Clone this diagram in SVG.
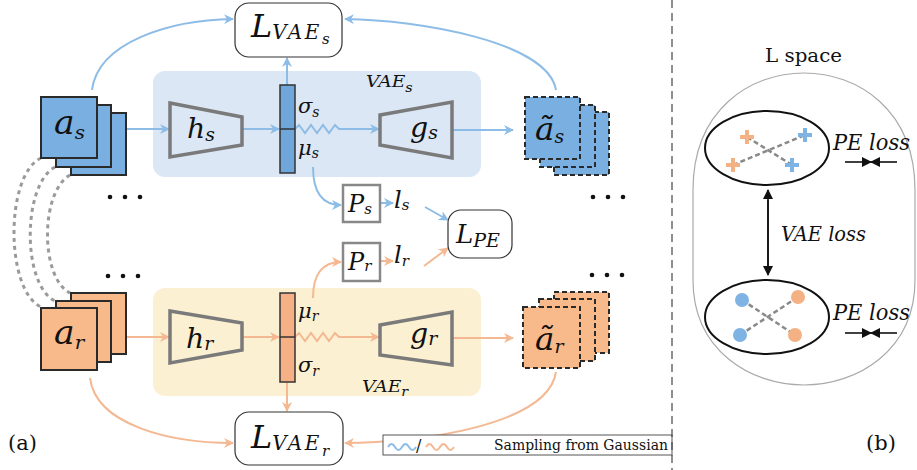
<svg xmlns="http://www.w3.org/2000/svg" width="917" height="470" viewBox="0 0 917 470">
<style>
text{font-family:"DejaVu Serif","Liberation Serif",serif}
.m{font-style:italic;fill:#111}
.t{fill:#111}
.bl{stroke:#8dbde6;stroke-width:2;fill:none}
.or{stroke:#f4b892;stroke-width:2;fill:none}
.trap{fill:none;stroke:#7a7a7a;stroke-width:3.5;stroke-linejoin:miter}
.sqb{fill:#7aafe2;stroke:#2a2a2a;stroke-width:2}
.sqo{fill:#f8b98b;stroke:#2a2a2a;stroke-width:2}
.dsb{fill:#7aafe2;stroke:#2a2a2a;stroke-width:2;stroke-dasharray:5,3}
.dso{fill:#f8b98b;stroke:#2a2a2a;stroke-width:2;stroke-dasharray:5,3}
.pbox{fill:#fff;stroke:#888;stroke-width:2.5}
.lbox{fill:#fff;stroke:#333;stroke-width:1.2}
.gd{stroke:#9a9a9a;stroke-width:3;fill:none;stroke-dasharray:4,4}
.dl{stroke:#8a8a8a;stroke-width:2.5;fill:none;stroke-dasharray:5,3}
.blk{stroke:#111;stroke-width:1.6;fill:none}
</style>
<defs>
<marker id="ab" viewBox="0 0 10 10" refX="9" refY="5" markerWidth="10" markerHeight="10" markerUnits="userSpaceOnUse" orient="auto"><path d="M0,0 L10,5 L0,10 L3,5 Z" fill="#8dbde6"/></marker>
<marker id="ao" viewBox="0 0 10 10" refX="9" refY="5" markerWidth="10" markerHeight="10" markerUnits="userSpaceOnUse" orient="auto"><path d="M0,0 L10,5 L0,10 L3,5 Z" fill="#f4b892"/></marker>
<marker id="ak" viewBox="0 0 10 10" refX="9" refY="5" markerWidth="10" markerHeight="10" markerUnits="userSpaceOnUse" orient="auto"><path d="M0,0 L10,5 L0,10 Z" fill="#111"/></marker>
</defs>

<!-- panels -->
<g id="vae_s_panel">
<rect x="153" y="71" width="328" height="106" rx="12" fill="#dbe7f4"/>
<text class="m" transform="translate(366 87) scale(1.1 1)" font-size="17">VAE<tspan font-size="13" dy="5">s</tspan></text>
</g>
<g id="vae_r_panel">
<rect x="153" y="288" width="328" height="108" rx="12" fill="#fbf1d2"/>
<text class="m" transform="translate(362 392) scale(1.1 1)" font-size="17">VAE<tspan font-size="13" dy="4">r</tspan></text>
</g>

<!-- connectors -->
<g id="connectors">
<path class="gd" d="M41,158 C5,175 5,290 41,307"/>
<path class="gd" d="M55,167 C22,185 22,285 55,301"/>
<path class="gd" d="M70,175 C40,192 40,278 70,293"/>

<line class="bl" x1="126" y1="129" x2="169" y2="129" marker-end="url(#ab)"/>
<line class="bl" x1="243" y1="129" x2="279" y2="129" marker-end="url(#ab)"/>
<path class="bl" d="M295,129 l4,-4 l6,8 l6,-8 l6,8 l6,-8 l6,8 l6,-8 l4,4 L379,129" marker-end="url(#ab)"/>
<line class="bl" x1="452" y1="130" x2="513" y2="130" marker-end="url(#ab)"/>
<line class="bl" x1="287" y1="85" x2="287" y2="58" marker-end="url(#ab)"/>
<path class="bl" d="M92,90 C98,42 170,20 233,19" marker-end="url(#ab)"/>
<path class="bl" d="M556,90 C548,42 420,20 345,19" marker-end="url(#ab)"/>
<path class="bl" d="M313,167 C313,195 324,205 341,205" marker-end="url(#ab)"/>
<line class="bl" x1="380" y1="203" x2="393" y2="203" marker-end="url(#ab)"/>
<line class="bl" x1="425" y1="207" x2="448" y2="220" marker-end="url(#ab)"/>

<line class="or" x1="126" y1="337" x2="169" y2="337" marker-end="url(#ao)"/>
<line class="or" x1="243" y1="337" x2="279" y2="337" marker-end="url(#ao)"/>
<path class="or" d="M295,337 l4,-4 l6,8 l6,-8 l6,8 l6,-8 l6,8 l6,-8 l4,4 L379,337" marker-end="url(#ao)"/>
<line class="or" x1="452" y1="338" x2="513" y2="338" marker-end="url(#ao)"/>
<line class="or" x1="287" y1="382" x2="287" y2="411" marker-end="url(#ao)"/>
<path class="or" d="M90,378 C96,425 170,443 233,443" marker-end="url(#ao)"/>
<path class="or" d="M556,372 C548,425 420,443 345,443" marker-end="url(#ao)"/>
<path class="or" d="M313,298 C313,272 324,262 341,262" marker-end="url(#ao)"/>
<line class="or" x1="380" y1="261" x2="393" y2="261" marker-end="url(#ao)"/>
<line class="or" x1="424" y1="266" x2="448" y2="248" marker-end="url(#ao)"/>

<line class="blk" x1="768" y1="270" x2="768" y2="190" marker-end="url(#ak)"/>
<line class="blk" x1="768" y1="200" x2="768" y2="275" marker-end="url(#ak)"/>
<line class="blk" x1="845" y1="162" x2="871" y2="162" marker-end="url(#ak)"/>
<line class="blk" x1="897" y1="162" x2="871" y2="162" marker-end="url(#ak)"/>
<line class="blk" x1="845" y1="333" x2="871" y2="333" marker-end="url(#ak)"/>
<line class="blk" x1="897" y1="333" x2="871" y2="333" marker-end="url(#ak)"/>
</g>

<!-- input stacks -->
<g id="a_s">
<rect class="sqb" x="71" y="113" width="55" height="62"/>
<rect class="sqb" x="56" y="105" width="55" height="62"/>
<rect class="sqb" x="41" y="97" width="56" height="61"/>
<text class="m" transform="translate(54 134) scale(1.05 1)" font-size="33">a<tspan font-size="19" dy="5">s</tspan></text>
</g>
<g id="a_r">
<rect class="sqo" x="71" y="293" width="55" height="61"/>
<rect class="sqo" x="56" y="301" width="55" height="61"/>
<rect class="sqo" x="41" y="308" width="56" height="62"/>
<text class="m" transform="translate(54 344) scale(1.05 1)" font-size="33">a<tspan font-size="19" dy="5">r</tspan></text>
</g>
<g id="dots">
<circle cx="110" cy="197" r="2.3" fill="#111"/><circle cx="125" cy="197" r="2.3" fill="#111"/><circle cx="140" cy="197" r="2.3" fill="#111"/>
<circle cx="593" cy="197" r="2.3" fill="#111"/><circle cx="608" cy="197" r="2.3" fill="#111"/><circle cx="623" cy="197" r="2.3" fill="#111"/>
<circle cx="108" cy="276" r="2.3" fill="#111"/><circle cx="123" cy="276" r="2.3" fill="#111"/><circle cx="138" cy="276" r="2.3" fill="#111"/>
<circle cx="592" cy="275" r="2.3" fill="#111"/><circle cx="607" cy="275" r="2.3" fill="#111"/><circle cx="622" cy="275" r="2.3" fill="#111"/>
</g>

<!-- encoders/decoders -->
<g id="h_s">
<path class="trap" d="M170,103 L242,117 L242,145 L170,157 Z"/>
<text class="m" transform="translate(187 138) scale(1.05 1)" font-size="27">h<tspan font-size="18" dy="3">s</tspan></text>
</g>
<g id="h_r">
<path class="trap" d="M170,311 L242,323 L242,350 L170,363 Z"/>
<text class="m" transform="translate(186 348) scale(1.05 1)" font-size="27">h<tspan font-size="18" dy="2">r</tspan></text>
</g>
<g id="z_s">
<rect x="280" y="85" width="15" height="88" fill="#6fa7db" stroke="#333" stroke-width="1.5"/>
<line x1="280" y1="129" x2="295" y2="129" stroke="#333" stroke-width="1.5"/>
<text class="m" x="298" y="113" font-size="21">σ<tspan font-size="14" dy="4">s</tspan></text>
<text class="m" x="298" y="155" font-size="21">μ<tspan font-size="14" dy="3">s</tspan></text>
</g>
<g id="z_r">
<rect x="280" y="293" width="15" height="89" fill="#f5b086" stroke="#333" stroke-width="1.5"/>
<line x1="280" y1="337" x2="295" y2="337" stroke="#333" stroke-width="1.5"/>
<text class="m" x="298" y="318" font-size="21">μ<tspan font-size="14" dy="3">r</tspan></text>
<text class="m" x="298" y="372" font-size="21">σ<tspan font-size="14" dy="4">r</tspan></text>
</g>
<g id="g_s">
<path class="trap" d="M380,115 L452,102 L452,158 L380,145 Z"/>
<text class="m" transform="translate(410 137) scale(1.05 1)" font-size="27">g<tspan font-size="18" dy="2">s</tspan></text>
</g>
<g id="g_r">
<path class="trap" d="M380,325 L452,312 L452,365 L380,355 Z"/>
<text class="m" transform="translate(410 343) scale(1.05 1)" font-size="27">g<tspan font-size="18" dy="2">r</tspan></text>
</g>

<!-- reconstructions -->
<g id="at_s">
<rect class="dsb" x="554" y="112" width="55" height="63"/>
<rect class="dsb" x="540" y="105" width="55" height="62"/>
<rect class="dsb" x="525" y="97" width="55" height="62"/>
<text class="m" transform="translate(535 140) scale(1.05 1)" font-size="31">ã<tspan font-size="18" dy="3">s</tspan></text>
</g>
<g id="at_r">
<rect class="dso" x="554" y="292" width="55" height="61"/>
<rect class="dso" x="539" y="299" width="56" height="62"/>
<rect class="dso" x="523" y="307" width="57" height="61"/>
<text class="m" transform="translate(535 350) scale(1.05 1)" font-size="31">ã<tspan font-size="18" dy="3">r</tspan></text>
</g>

<!-- P boxes and l -->
<g id="P_s">
<rect class="pbox" x="343" y="185" width="37" height="37"/>
<text class="m" x="348" y="212" font-size="24">P<tspan font-size="15" dy="2">s</tspan></text>
</g>
<g id="P_r">
<rect class="pbox" x="343" y="243" width="37" height="38"/>
<text class="m" x="348" y="270" font-size="24">P<tspan font-size="15" dy="1">r</tspan></text>
</g>
<g id="l_s"><text class="m" x="394" y="208" font-size="24">l<tspan font-size="15" dy="2">s</tspan></text></g>
<g id="l_r"><text class="m" x="394" y="263" font-size="24">l<tspan font-size="15" dy="3">r</tspan></text></g>

<!-- loss boxes -->
<g id="L_VAE_s">
<rect class="lbox" x="235" y="3" width="107" height="54" rx="14"/>
<text class="m" x="251" y="37" font-size="32">L<tspan font-size="20" dy="2" letter-spacing="2.5">VAE</tspan><tspan font-size="15" dy="5">s</tspan></text>
</g>
<g id="L_VAE_r">
<rect class="lbox" x="235" y="412" width="108" height="53" rx="14"/>
<text class="m" x="251" y="448" font-size="32">L<tspan font-size="20" dy="2" letter-spacing="2.5">VAE</tspan><tspan font-size="15" dy="6">r</tspan></text>
</g>
<g id="L_PE">
<rect class="lbox" x="448" y="210" width="64" height="48" rx="13"/>
<text class="m" x="456" y="243" font-size="26">L<tspan font-size="19" dy="4">PE</tspan></text>
</g>

<!-- legend -->
<g id="legend">
<rect x="383" y="435" width="289" height="20" fill="#fff" stroke="#555" stroke-width="1"/>
<path d="M388,447 q3.5,-6 7,0 t7,0 t7,0 t7,0" stroke="#8dbde6" stroke-width="2" fill="none"/>
<text class="t" x="416" y="451" font-size="16">/</text>
<path d="M426,447 q3.5,-6 7,0 t7,0 t7,0 t7,0" stroke="#f4b892" stroke-width="2" fill="none"/>
<text class="t" x="494" y="450" font-size="15.5" textLength="174" lengthAdjust="spacingAndGlyphs">Sampling from Gaussian</text>
</g>

<line x1="672" y1="0" x2="672" y2="470" stroke="#444" stroke-width="1.2" stroke-dasharray="8,5"/>
<text class="t" x="8" y="450" font-size="21">(a)</text>
<text class="t" x="866" y="450" font-size="21">(b)</text>

<!-- right panel -->
<g id="l_space">
<text class="t" x="765" y="62" font-size="19" textLength="77" lengthAdjust="spacingAndGlyphs">L space</text>
<path d="M693,190 C693,110 750,73 804,73 C858,73 915,110 915,190 L915,280 C915,350 858,385 804,385 C750,385 693,350 693,280 Z" fill="none" stroke="#aaa" stroke-width="1.2"/>
</g>
<g id="upper_cluster">
<ellipse cx="767" cy="148" rx="62" ry="37" fill="#fff" stroke="#111" stroke-width="2"/>
<line class="dl" x1="747" y1="137" x2="792" y2="165"/>
<line class="dl" x1="733" y1="165" x2="805" y2="135"/>
<path d="M740,137 h14 M747,130 v14 M726,165 h14 M733,158 v14" stroke="#f4b183" stroke-width="4"/>
<path d="M798,135 h14 M805,128 v14 M785,165 h14 M792,158 v14" stroke="#7fb3e3" stroke-width="4"/>
<text class="m" x="833" y="150" font-size="22" textLength="77" lengthAdjust="spacingAndGlyphs">PE loss</text>
</g>
<g id="vae_loss"><text class="m" x="781" y="241" font-size="21" textLength="85" lengthAdjust="spacingAndGlyphs">VAE loss</text></g>
<g id="lower_cluster">
<ellipse cx="767" cy="317" rx="62" ry="37" fill="#fff" stroke="#111" stroke-width="2"/>
<line class="dl" x1="742" y1="300" x2="795" y2="335"/>
<line class="dl" x1="740" y1="335" x2="798" y2="297"/>
<circle cx="742" cy="300" r="7" fill="#7fb3e3"/>
<circle cx="740" cy="335" r="7" fill="#7fb3e3"/>
<circle cx="798" cy="297" r="7" fill="#f4b183"/>
<circle cx="795" cy="335" r="7" fill="#f4b183"/>
<text class="m" x="833" y="320" font-size="22" textLength="77" lengthAdjust="spacingAndGlyphs">PE loss</text>
</g>
</svg>
